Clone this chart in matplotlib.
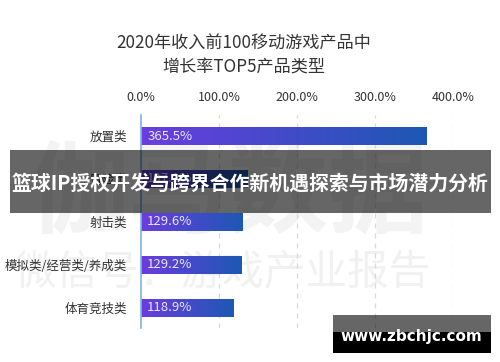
import matplotlib
matplotlib.use("Agg")
import matplotlib.pyplot as plt
import numpy as np
from matplotlib.colors import LinearSegmentedColormap
from matplotlib.patches import Rectangle

plt.rcParams['font.family'] = ['Noto Sans CJK SC', 'DejaVu Sans']

categories = ["放置类", "冒险类", "射击类", "模拟类/经营类/养成类", "体育竞技类"]
values = [365.5, 137.1, 129.6, 129.2, 118.9]
tick_vals = [0, 100, 200, 300, 400]
tick_labels = ["0.0%", "100.0%", "200.0%", "300.0%", "400.0%"]
title = "2020年收入前100移动游戏产品中\n增长率TOP5产品类型"
banner = "篮球IP授权开发与跨界合作新机遇探索与市场潜力分析"
site = "www.zbchjc.com"

W, H = 500, 362
fig = plt.figure(figsize=(5, 3.62), dpi=100)

def fx(px):
    return px / W

def fy(py):
    return 1 - py / H

# watermark behind
fig.text(fx(228), fy(195), "伽马数据", fontsize=72, color="#f3f3f3", ha="center", va="center",
         fontweight="bold", zorder=-2)
fig.text(fx(222), fy(274), "微信号：游戏产业报告", fontsize=30, color="#f1f1f1", ha="center", va="center", zorder=-2)

ax = fig.add_axes([fx(141), fy(328), fx(453) - fx(141), fy(115) - fy(328)])
ax.patch.set_alpha(0)
ax.set_xlim(0, 400)
ax.set_ylim(4.47, -0.49)

cmap = LinearSegmentedColormap.from_list("g", ["#6a3ddf", "#1d58b3"])
bh = 0.42
for i, v in enumerate(values):
    y0 = i - bh / 2
    grad = np.linspace(0, 1, 256).reshape(1, -1)
    im = ax.imshow(grad, cmap=cmap, aspect="auto", extent=[0, v, y0 + bh, y0], zorder=2)
    rect = Rectangle((0, y0), v, bh, transform=ax.transData, facecolor="none", edgecolor="none")
    ax.add_patch(rect)
    im.set_clip_path(rect)
    ax.text(8, i, f"{v:.1f}%", color="#ece6fb", fontsize=9.5, va="center", ha="left", zorder=3)

ax.set_yticks(range(len(categories)))
ax.set_yticklabels(categories, fontsize=9, color="#333333")
ax.tick_params(axis="y", length=0, pad=10)
ax.xaxis.tick_top()
ax.set_xticks(tick_vals)
ax.set_xticklabels(tick_labels, fontsize=9, color="#333333")
ax.tick_params(axis="x", length=0, pad=8)
for t in tick_vals[1:]:
    ax.axvline(t, color="#d9d9d9", lw=0.9, ls=(0, (4, 4)), zorder=1)
for s in ["top", "right", "bottom"]:
    ax.spines[s].set_visible(False)
ax.spines["left"].set_color("#7fb1e8")
ax.spines["left"].set_linewidth(1.2)
ax.spines["left"].set_zorder(4)

fig.text(fx(244), fy(56), title, fontsize=12.3, color="#333333", ha="center", va="center",
         linespacing=1.4)

# banner overlay
fig.patches.append(Rectangle((fx(10), fy(213)), fx(491) - fx(10), fy(150) - fy(213),
                             transform=fig.transFigure, facecolor="black", alpha=0.6,
                             edgecolor="none", zorder=10))
fig.text(fx(250), fy(183), banner, fontsize=14.3, color="white", fontweight="bold",
         ha="center", va="center", zorder=11)

# site box
fig.patches.append(Rectangle((fx(333), fy(332)), fx(491) - fx(333), fy(315) - fy(332),
                             transform=fig.transFigure, facecolor="black", alpha=0.6,
                             edgecolor="none", zorder=10))
fig.patches.append(Rectangle((fx(333), fy(353)), fx(491) - fx(333), fy(332) - fy(353),
                             transform=fig.transFigure, facecolor="black",
                             edgecolor="none", zorder=10))
fig.text(fx(411), fy(337), site, fontsize=11, color="white", fontweight="bold",
         ha="center", va="center", zorder=11, family=["DejaVu Sans"])

fig.savefig("out.png", dpi=100)
